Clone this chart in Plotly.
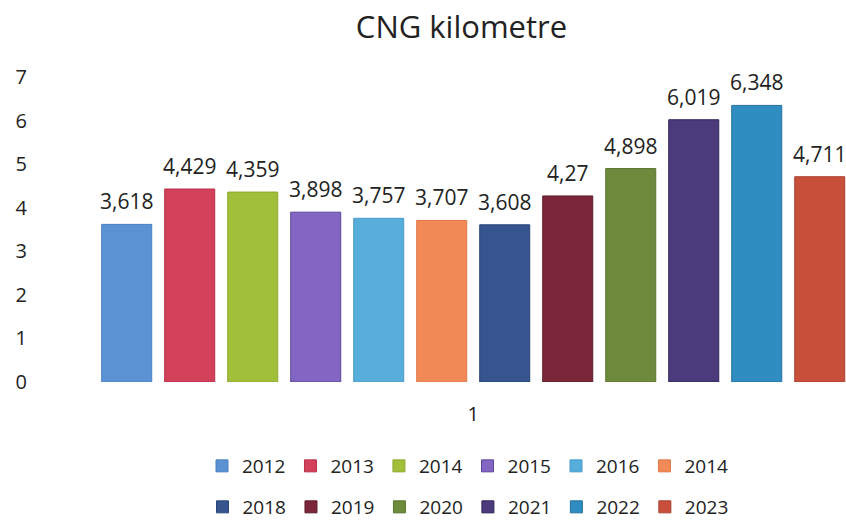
import plotly.graph_objects as go

categories = ["1"]
series_names = ["2012", "2013", "2014", "2015", "2016", "2014",
                "2018", "2019", "2020", "2021", "2022", "2023"]
values = [3.618, 4.429, 4.359, 3.898, 3.757, 3.707,
          3.608, 4.27, 4.898, 6.019, 6.348, 4.711]
colors = ["#5A92D4", "#D3405A", "#A2BF3A", "#8366C4", "#57AEDA", "#F28A58",
          "#36558F", "#7B2739", "#6E8B3D", "#4B3B7D", "#2F8DC2", "#C8503A"]
edge_colors = ["#4A80C0", "#B83048", "#8FA830", "#5A4498", "#4A9CC8", "#E07848",
               "#2A4578", "#5E1C2A", "#5A7530", "#2E2458", "#24709C", "#A84030"]
y_ticks = [0, 1, 2, 3, 4, 5, 6, 7]

FONT = "Open Sans"

fig = go.Figure()
for i, (name, v) in enumerate(zip(series_names, values)):
    fig.add_trace(go.Bar(
        x=categories, y=[v], name=name,
        marker=dict(color=colors[i], line=dict(color=edge_colors[i], width=1)),
        legend="legend" if i < 6 else "legend2",
        hoverinfo="skip",
    ))
# value labels, positioned by the library next to each grouped bar
for i, (name, v) in enumerate(zip(series_names, values)):
    fig.add_trace(go.Scatter(
        x=categories, y=[v], name=name, mode="markers+text",
        marker=dict(size=14, opacity=0, color=colors[i]),
        texttemplate="%{y:.3~f}", textposition="top center",
        textfont=dict(family=FONT, size=21, color="#222222"),
        cliponaxis=False, showlegend=False, hoverinfo="skip",
    ))

fig.update_layout(
    width=846, height=521,
    margin=dict(l=40, r=0, t=77, b=139),
    paper_bgcolor="white", plot_bgcolor="white",
    separators=", ",
    barmode="group", bargap=0.062, bargroupgap=0.206,
    scattermode="group", scattergap=0.062,
    font=dict(family=FONT, color="#222222"),
    title=dict(text="CNG kilometre", x=461.5 / 846, xref="container", xanchor="center",
               y=1 - 27 / 521, yref="container", yanchor="middle",
               font=dict(family=FONT, size=31, color="#222222")),
    xaxis=dict(type="category", range=[-0.5375, 0.4625], showgrid=False,
               showline=False, zeroline=False, ticks="",
               ticklabelstandoff=18, tickfont=dict(family=FONT, size=20)),
    yaxis=dict(range=[0, 7], tickvals=y_ticks, showgrid=False, showline=False,
               zeroline=False, ticks="", ticklabelstandoff=12,
               tickfont=dict(family=FONT, size=20)),
    legend=dict(orientation="h", xref="container", yref="container",
                x=468 / 846, xanchor="center", y=1 - 466 / 521, yanchor="middle",
                font=dict(family=FONT, size=19), bgcolor="rgba(0,0,0,0)"),
    legend2=dict(orientation="h", xref="container", yref="container",
                 x=468 / 846, xanchor="center", y=1 - 507 / 521, yanchor="middle",
                 font=dict(family=FONT, size=19), bgcolor="rgba(0,0,0,0)"),
    showlegend=True,
)

fig.write_html("out.html", config={"displayModeBar": False},
               post_script="document.body.style.margin='0';")
